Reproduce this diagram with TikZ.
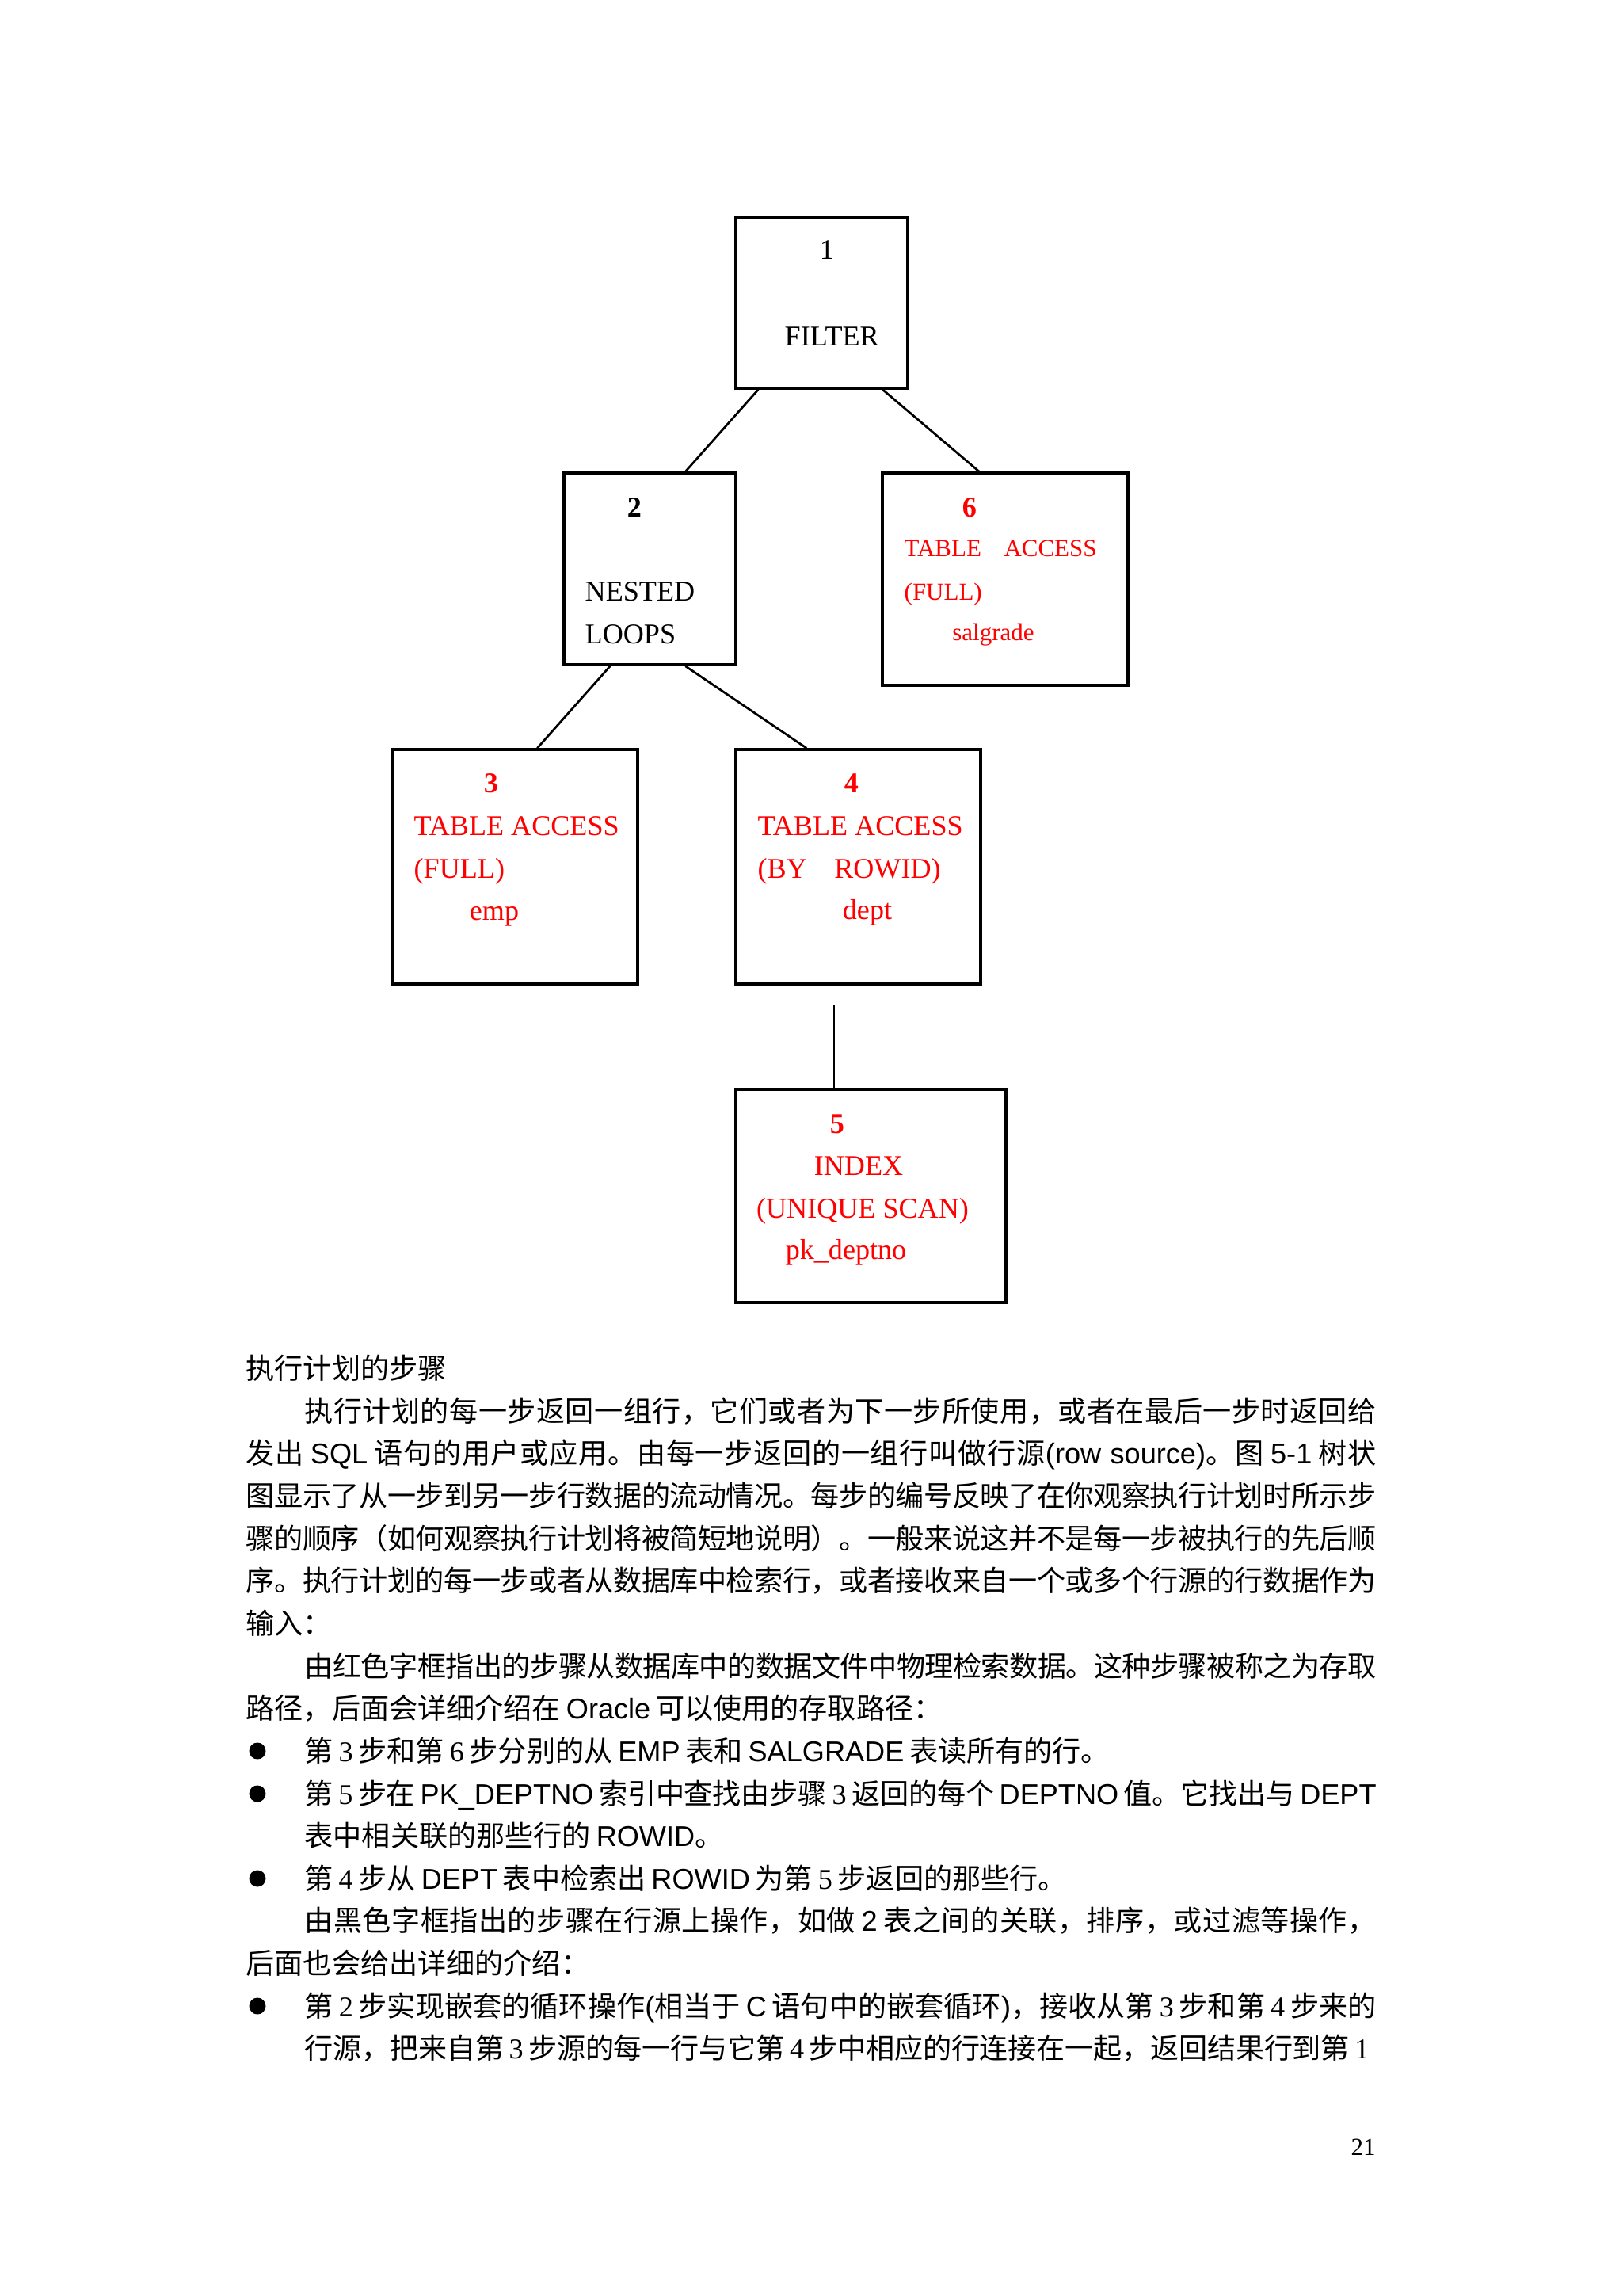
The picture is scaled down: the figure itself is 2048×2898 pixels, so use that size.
\documentclass[tikz,border=0pt]{standalone}
\usepackage{fontspec}
\setmainfont{Liberation Serif}
\newfontfamily\cjk{Noto Sans CJK SC}
\newfontfamily\lat{Liberation Sans}
\newfontfamily\tms{Liberation Serif}
\usetikzlibrary{calc}
\definecolor{boxred}{RGB}{255,0,0}
\newcommand\pu{0.29066pt}
\newcommand\gap{\hskip 2pt\relax}
\def\spreadA#1{{#1}\spreadB}
\def\spreadB#1{\ifx\relax#1\else\hskip 0pt plus 1fil minus 0.2pt{#1}\expandafter\spreadB\fi}
\newcommand\jline[2]{\hbox to #1{\spreadA#2\relax}}
\tikzset{
  box/.style={draw, line width=1pt, inner sep=0pt},
  conn/.style={line width=0.8pt},
  tnum/.style={inner sep=0pt, text height=7pt, text depth=0pt, font=\fontsize{10.5pt}{12pt}\selectfont\bfseries},
  tcap/.style={inner sep=0pt, text height=7pt, text depth=0pt, font=\fontsize{10.5pt}{12pt}\selectfont},
  tcapsm/.style={inner sep=0pt, text height=6pt, text depth=0pt, font=\fontsize{9pt}{11pt}\selectfont},
  tlow/.style={inner sep=0pt, text height=4.8pt, text depth=2.2pt, font=\fontsize{10.5pt}{12pt}\selectfont},
  tlowsm/.style={inner sep=0pt, text height=4.1pt, text depth=1.9pt, font=\fontsize{9pt}{11pt}\selectfont},
  rd/.style={text=boxred},
  body/.style={anchor=west, inner sep=0pt, text height=8pt, text depth=0pt, font=\cjk\fontsize{10.5pt}{12pt}\selectfont},
  bul/.style={circle, fill=black, inner sep=0pt, minimum size=21*\pu}
}
\begin{document}
\begin{tikzpicture}[x=0.29066pt, y=-0.29066pt]
\useasboundingbox[fill=white] (0,0) rectangle (2048,2898);
% boxes
\node[box, minimum width=217*\pu, minimum height=215*\pu] (b1) at (1037.5,382.5) {};
\node[box, minimum width=217*\pu, minimum height=242*\pu] (b2) at (820.5,718) {};
\node[box, minimum width=310*\pu, minimum height=268*\pu] (b6) at (1269,731) {};
\node[box, minimum width=310*\pu, minimum height=296*\pu] (b3) at (650,1094) {};
\node[box, minimum width=309*\pu, minimum height=296*\pu] (b4) at (1083.5,1094) {};
\node[box, minimum width=341*\pu, minimum height=269*\pu] (b5) at (1099.5,1509.5) {};
% connectors
\draw[conn] ($(b1.south west)+(30,0)$) -- ($(b2.north west)+(155,0)$);
\draw[conn] ($(b1.south west)+(187,0)$) -- ($(b6.north west)+(124,0)$);
\draw[conn] ($(b2.south west)+(60,0)$) -- ($(b3.north west)+(185,0)$);
\draw[conn] ($(b2.south west)+(155,0)$) -- ($(b4.north west)+(91,0)$);
\coordinate (c45) at (1053,1268);
\draw[conn] (c45) -- (c45 |- b5.north);
% box texts
\node[tcap] (n1) at (1044,315) {1};
\node[tcap, anchor=west] (t1) at (990,424) {FILTER};
\node[tnum] (n2) at (801,640) {2};
\node[tcap, anchor=west] (t2a) at (738,746) {NESTED};
\node[tcap, anchor=west] (t2b) at (738,800) {LOOPS};
\node[tnum, rd] (n6) at (1224,640) {6};
\node[tcapsm, rd, anchor=west] (t6a) at (1141,692) {TABLE\hspace{8.3pt}ACCESS};
\node[tcapsm, rd, anchor=west] (t6b) at (1141,747) {(FULL)};
\node[tlowsm, rd] (t6c) at (1254,805) {salgrade};
\node[tnum, rd] (n3) at (620,988) {3};
\node[tcap, rd, anchor=west] (t3a) at (522,1042) {TABLE ACCESS};
\node[tcap, rd, anchor=west] (t3b) at (522,1096) {(FULL)};
\node[tlow, rd] (t3c) at (624,1157) {emp};
\node[tnum, rd] (n4) at (1075,988) {4};
\node[tcap, rd, anchor=west] (t4a) at (956,1042) {TABLE ACCESS};
\node[tcap, rd, anchor=west] (t4b) at (956,1096) {(BY\hspace{10pt}ROWID)};
\node[tlow, rd] (t4c) at (1095,1156) {dept};
\node[tnum, rd] (n5) at (1057,1418) {5};
\node[tcap, rd] (t5a) at (1084,1471) {INDEX};
\node[tcap, rd] (t5b) at (1089,1525) {(UNIQUE SCAN)};
\node[tlow, rd] (t5c) at (1068,1585) {pk\_deptno};
% body text
\node[body] (h0) at (310,1727) {执行计划的步骤};
\node[body] (l1) at (384,1781) {\jline{393.26pt}{执行计划的每一步返回一组行，它们或者为下一步所使用，或者在最后一步时返回给}};
\node[body] (l2) at (310,1834) {\jline{414.77pt}{发出{\gap}{\lat SQL}{\gap}语句的用户或应用。由每一步返回的一组行叫做行源{\lat(row}{\lat~}{\lat source)}。图{\gap}{\lat 5-1}{\gap}树状}};
\node[body] (l3) at (310,1888) {\jline{414.77pt}{图显示了从一步到另一步行数据的流动情况。每步的编号反映了在你观察执行计划时所示步}};
\node[body] (l4) at (310,1942) {\jline{414.77pt}{骤的顺序（如何观察执行计划将被简短地说明）。一般来说这并不是每一步被执行的先后顺}};
\node[body] (l5) at (310,1995) {\jline{414.77pt}{序。执行计划的每一步或者从数据库中检索行，或者接收来自一个或多个行源的行数据作为}};
\node[body] (l6) at (310,2049) {输入：};
\node[body] (l7) at (384,2103) {\jline{393.26pt}{由红色字框指出的步骤从数据库中的数据文件中物理检索数据。这种步骤被称之为存取}};
\node[body] (l8) at (310,2156) {路径，后面会详细介绍在{\gap}{\lat Oracle}{\gap}可以使用的存取路径：};
\node[bul] (d1) at (325,2210) {};
\node[body] (s1) at (384,2210) {第{\gap}{\tms 3}{\gap}步和第{\gap}{\tms 6}{\gap}步分别的从{\gap}{\lat EMP}{\gap}表和{\gap}{\lat SALGRADE}{\gap}表读所有的行。};
\node[bul] (d2) at (325,2264) {};
\node[body] (s2a) at (384,2264) {\jline{393.26pt}{第{\gap}{\tms 5}{\gap}步在{\gap}{\lat PK\_DEPTNO}{\gap}索引中查找由步骤{\gap}{\tms 3}{\gap}返回的每个{\gap}{\lat DEPTNO}{\gap}值。它找出与{\gap}{\lat DEPT}}};
\node[body] (s2b) at (384,2317) {表中相关联的那些行的{\gap}{\lat ROWID}。};
\node[bul] (d3) at (325,2371) {};
\node[body] (s3) at (384,2371) {第{\gap}{\tms 4}{\gap}步从{\gap}{\lat DEPT}{\gap}表中检索出{\gap}{\lat ROWID}{\gap}为第{\gap}{\tms 5}{\gap}步返回的那些行。};
\node[body] (p3a) at (384,2424) {\jline{393.26pt}{由黑色字框指出的步骤在行源上操作，如做{\gap}{\lat 2}{\gap}表之间的关联，排序，或过滤等操作，}};
\node[body] (p3b) at (310,2478) {后面也会给出详细的介绍：};
\node[bul] (d4) at (325,2532) {};
\node[body] (s4a) at (384,2532) {\jline{393.26pt}{第{\gap}{\tms 2}{\gap}步实现嵌套的循环操作{\lat(}相当于{\gap}{\lat C}{\gap}语句中的嵌套循环{\lat)}，接收从第{\gap}{\tms 3}{\gap}步和第{\gap}{\tms 4}{\gap}步来的}};
\node[body] (s4b) at (384,2585) {\jline{390.6pt}{行源，把来自第{\gap}{\tms 3}{\gap}步源的每一行与它第{\gap}{\tms 4}{\gap}步中相应的行连接在一起，返回结果行到第{\gap}{\tms 1}}};
\node[inner sep=0pt, font=\fontsize{9pt}{10pt}\selectfont] (pg) at (1721,2710) {21};
\end{tikzpicture}
\end{document}
